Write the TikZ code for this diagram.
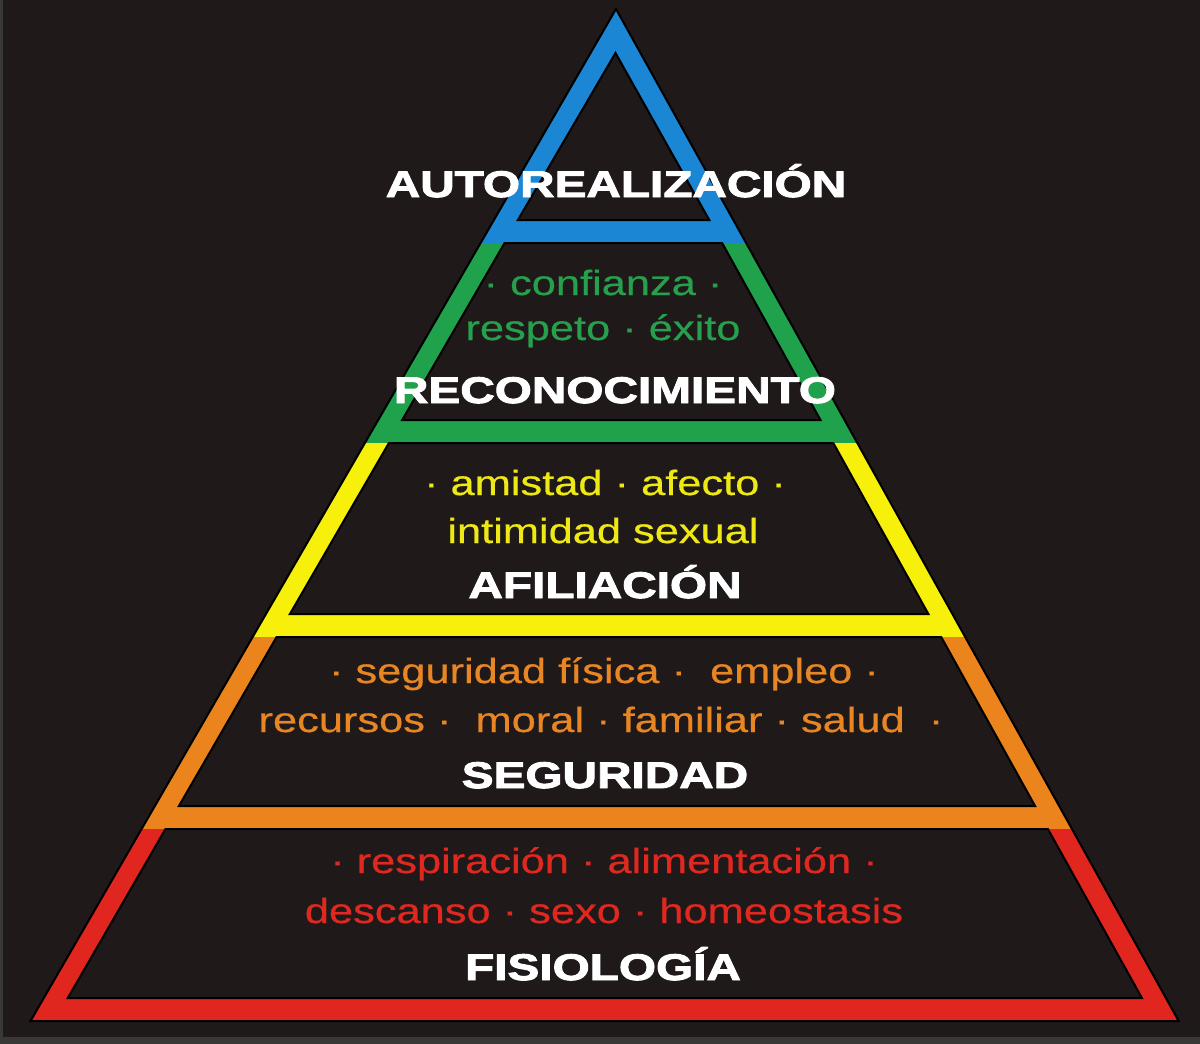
\documentclass[tikz,border=0pt]{standalone}
\usepackage{fontspec}
\newfontfamily\lab{Liberation Sans}[FakeStretch=1.24, FakeBold=0.5]
\newfontfamily\hd{Liberation Sans}[FakeStretch=1.29, BoldFeatures={FakeBold=2.6}]
\definecolor{bg}{RGB}{31,26,25}
\definecolor{edge}{RGB}{58,56,54}
\definecolor{cblue}{RGB}{26,134,212}
\definecolor{cgreen}{RGB}{32,162,76}
\definecolor{cyellow}{RGB}{246,240,10}
\definecolor{corange}{RGB}{236,132,30}
\definecolor{cred}{RGB}{224,38,30}
\definecolor{tgreen}{RGB}{38,160,76}
\definecolor{tyellow}{RGB}{238,232,20}
\definecolor{torange}{RGB}{232,134,36}
\definecolor{tred}{RGB}{224,40,32}
\tikzset{
  hole/.style={fill=bg, draw=black, line width=2pt, line join=miter},
  item/.style={inner sep=0pt, anchor=base, font=\lab\fontsize{35}{40}\selectfont},
  head/.style={inner sep=0pt, anchor=base, text=white, font=\hd\bfseries\fontsize{37}{40}\selectfont},
}
\begin{document}
\begin{tikzpicture}[x=1pt,y=-1pt]
\useasboundingbox (0,0) rectangle (1200,1044);
\fill[bg] (0,0) rectangle (1200,1044);
\fill[edge] (0,1037) rectangle (1200,1044);
\fill[edge] (0,0) rectangle (3,1044);
% coloured bands
\fill[cblue] (616,9) -- (746.1,243) -- (480.6,243) -- cycle;
\fill[cgreen] (480.6,243) -- (746.1,243) -- (857.3,443) -- (364.9,443) -- cycle;
\fill[cyellow] (364.9,443) -- (857.3,443) -- (965.2,637) -- (252.6,637) -- cycle;
\fill[corange] (252.6,637) -- (965.2,637) -- (1071.9,829) -- (141.5,829) -- cycle;
\fill[cred] (141.5,829) -- (1071.9,829) -- (1178.7,1021) -- (30.5,1021) -- cycle;
% dark interiors
\path[hole] (615.5,53) -- (709.3,220) -- (517.9,220) -- cycle;
\path[hole] (504.6,243) -- (722.1,243) -- (820.5,420) -- (402.2,420) -- cycle;
\path[hole] (388.9,443) -- (833.3,443) -- (928.4,614) -- (289.9,614) -- cycle;
\path[hole] (276.6,637) -- (941.2,637) -- (1035.1,806) -- (178.9,806) -- cycle;
\path[hole] (165.5,829) -- (1047.9,829) -- (1141.9,998) -- (67.8,998) -- cycle;
% outer outline
\draw[black, line width=2pt, line join=miter] (616,9) -- (1178.7,1021) -- (30.5,1021) -- cycle;
% texts
\node[head] (autor) at (616,197) {AUTOREALIZACIÓN};
\node[item, text=tgreen] (g1) at (603,295) {· confianza ·};
\node[item, text=tgreen] (g2) at (603,340) {respeto · éxito};
\node[head] (recon) at (615,403) {RECONOCIMIENTO};
\node[item, text=tyellow] (y1) at (605,495) {· amistad · afecto ·};
\node[item, text=tyellow] (y2) at (603,543) {intimidad sexual};
\node[head] (afil) at (605,598) {AFILIACIÓN};
\node[item, text=torange] (o1) at (604,683) {· seguridad física ·\ \ empleo ·};
\node[item, text=torange] (o2) at (601,732) {recursos ·\ \ moral · familiar · salud\ \ ·};
\node[head] (segur) at (605,788) {SEGURIDAD};
\node[item, text=tred] (r1) at (604,873) {· respiración · alimentación ·};
\node[item, text=tred] (r2) at (604,923) {descanso · sexo · homeostasis};
\node[head] (fisio) at (603,980) {FISIOLOGÍA};
\end{tikzpicture}
\end{document}
